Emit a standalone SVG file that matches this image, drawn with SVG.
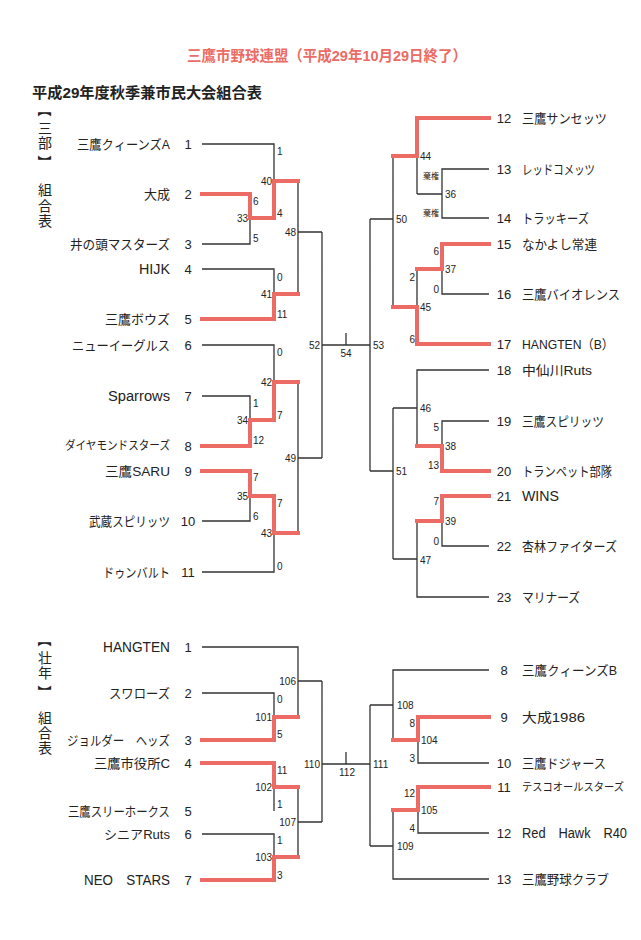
<svg xmlns="http://www.w3.org/2000/svg" width="641" height="940" viewBox="0 0 641 940">
<style>
text{font-family:"Liberation Sans","Noto Sans CJK JP",sans-serif;fill:#222;dominant-baseline:central}
.ttl{font-size:15px;font-weight:bold;fill:#ec6b64}
.sub{font-size:15px;font-weight:bold}
.v{font-size:14px;text-anchor:middle}
.nl{font-size:13px;text-anchor:end}
.nr{font-size:13px;text-anchor:start}
.no{font-size:13px;text-anchor:middle}
.m{font-size:10px}
.e{text-anchor:end}
.c{text-anchor:middle}
.k{font-size:8px;text-anchor:end}
.bk{fill:none;stroke:#333;stroke-width:1.3}
.rd{fill:none;stroke:#ec6b64;stroke-width:4;stroke-linejoin:miter;stroke-linecap:square}
</style>
<rect width="641" height="940" fill="#fff"/>
<text class="ttl" x="187" y="55" textLength="280" lengthAdjust="spacingAndGlyphs">三鷹市野球連盟（平成29年10月29日終了）</text>
<text class="sub" x="32" y="92" textLength="230" lengthAdjust="spacingAndGlyphs">平成29年度秋季兼市民大会組合表</text>
<g id="label-sanbu">
<text class="v" x="45" y="110" transform="rotate(90 45 110)">【</text>
<text class="v" x="45" y="128">三</text>
<text class="v" x="45" y="143">部</text>
<text class="v" x="45" y="162" transform="rotate(90 45 162)">】</text>
<text class="v" x="45" y="190">組</text>
<text class="v" x="45" y="206">合</text>
<text class="v" x="45" y="221">表</text>
</g>
<g id="label-sonen">
<text class="v" x="45" y="640" transform="rotate(90 45 640)">【</text>
<text class="v" x="45" y="658">壮</text>
<text class="v" x="45" y="673">年</text>
<text class="v" x="45" y="692" transform="rotate(90 45 692)">】</text>
<text class="v" x="45" y="718">組</text>
<text class="v" x="45" y="733">合</text>
<text class="v" x="45" y="748">表</text>
</g>

<g id="connectors">
<path class="bk" d="M202,144H274V218M202,244H250V194M298,181V294M298,232H322M202,269H274V319M202,345H274V420M202,396H250V446M298,382V533M298,458H322M202,521H250V471M202,572H274V496M322,232V458M322,345H370M346,333V345M370,219V471M370,219H393M370,471H393"/>
<path class="bk" d="M489,169H442V218H489M417,194H442M417,118V194M393,156V307M489,294H442V244M417,269V344M489,370H417V446M489,421H442V471M393,408H417M393,408V559M489,546H442V496M489,597H417V521M393,559H417"/>
<path class="bk" d="M202,647H298V717M202,693H274V740M298,681H322M298,787V857M298,822H322M202,763H274V811M202,834H274V880M322,681V822M322,764H370M346,752V764M370,705V846M370,705H393M370,846H393"/>
<path class="bk" d="M489,670H393V740M489,763H418V717M489,833H418V787M393,810V879H489"/>
<path class="rd" d="M202,194H250V218H274V181H298M202,319H274V294H298M202,446H250V420H274V382H298M202,471H250V496H274V533H298"/>
<path class="rd" d="M489,118H417V156H393M489,244H442V269H417M489,344H417V307H393M489,471H442V446H417M489,496H442V521H417"/>
<path class="rd" d="M202,740H274V717H298M202,763H274V787H298M202,880H274V857H298"/>
<path class="rd" d="M489,717H418V740H393M489,787H418V810H393"/>
</g>

<g id="sanbu-1"><text class="nl" x="170" y="144" textLength="93" lengthAdjust="spacingAndGlyphs">三鷹クィーンズA</text><text class="no" x="188" y="144">1</text></g>
<g id="sanbu-2"><text class="nl" x="170" y="194" textLength="26" lengthAdjust="spacingAndGlyphs">大成</text><text class="no" x="188" y="194">2</text></g>
<g id="sanbu-3"><text class="nl" x="170" y="244" textLength="100" lengthAdjust="spacingAndGlyphs">井の頭マスターズ</text><text class="no" x="188" y="244">3</text></g>
<g id="sanbu-4"><text class="nl" x="170" y="269" style="font-size:14px" textLength="31" lengthAdjust="spacingAndGlyphs">HIJK</text><text class="no" x="188" y="269">4</text></g>
<g id="sanbu-5"><text class="nl" x="170" y="319" textLength="65" lengthAdjust="spacingAndGlyphs">三鷹ボウズ</text><text class="no" x="188" y="319">5</text></g>
<g id="sanbu-6"><text class="nl" x="170" y="345" textLength="98" lengthAdjust="spacingAndGlyphs">ニューイーグルス</text><text class="no" x="188" y="345">6</text></g>
<g id="sanbu-7"><text class="nl" x="170" y="396" style="font-size:14px" textLength="62" lengthAdjust="spacingAndGlyphs">Sparrows</text><text class="no" x="188" y="396">7</text></g>
<g id="sanbu-8"><text class="nl" x="170" y="446" style="font-size:12px" textLength="105" lengthAdjust="spacingAndGlyphs">ダイヤモンドスターズ</text><text class="no" x="188" y="446">8</text></g>
<g id="sanbu-9"><text class="nl" x="170" y="471" textLength="65" lengthAdjust="spacingAndGlyphs">三鷹SARU</text><text class="no" x="188" y="471">9</text></g>
<g id="sanbu-10"><text class="nl" x="170" y="521" textLength="81" lengthAdjust="spacingAndGlyphs">武蔵スピリッツ</text><text class="no" x="188" y="521">10</text></g>
<g id="sanbu-11"><text class="nl" x="170" y="572" textLength="67" lengthAdjust="spacingAndGlyphs">ドゥンバルト</text><text class="no" x="188" y="572">11</text></g>

<g id="sanbu-12"><text class="no" x="504" y="118">12</text><text class="nr" x="522" y="118" textLength="85" lengthAdjust="spacingAndGlyphs">三鷹サンセッツ</text></g>
<g id="sanbu-13"><text class="no" x="504" y="169">13</text><text class="nr" x="522" y="169" textLength="73" lengthAdjust="spacingAndGlyphs">レッドコメッツ</text></g>
<g id="sanbu-14"><text class="no" x="504" y="218">14</text><text class="nr" x="522" y="218" textLength="67" lengthAdjust="spacingAndGlyphs">トラッキーズ</text></g>
<g id="sanbu-15"><text class="no" x="504" y="244">15</text><text class="nr" x="522" y="244" textLength="75" lengthAdjust="spacingAndGlyphs">なかよし常連</text></g>
<g id="sanbu-16"><text class="no" x="504" y="294">16</text><text class="nr" x="522" y="294" textLength="98" lengthAdjust="spacingAndGlyphs">三鷹バイオレンス</text></g>
<g id="sanbu-17"><text class="no" x="504" y="344">17</text><text class="nr" x="522" y="344" textLength="92" lengthAdjust="spacingAndGlyphs">HANGTEN（B）</text></g>
<g id="sanbu-18"><text class="no" x="504" y="370">18</text><text class="nr" x="522" y="370" textLength="70" lengthAdjust="spacingAndGlyphs">中仙川Ruts</text></g>
<g id="sanbu-19"><text class="no" x="504" y="421">19</text><text class="nr" x="522" y="421" textLength="82" lengthAdjust="spacingAndGlyphs">三鷹スピリッツ</text></g>
<g id="sanbu-20"><text class="no" x="504" y="471">20</text><text class="nr" x="522" y="471" textLength="90" lengthAdjust="spacingAndGlyphs">トランペット部隊</text></g>
<g id="sanbu-21"><text class="no" x="504" y="496">21</text><text class="nr" x="522" y="496" style="font-size:14px" textLength="37" lengthAdjust="spacingAndGlyphs">WINS</text></g>
<g id="sanbu-22"><text class="no" x="504" y="546">22</text><text class="nr" x="522" y="546" textLength="95" lengthAdjust="spacingAndGlyphs">杏林ファイターズ</text></g>
<g id="sanbu-23"><text class="no" x="504" y="597">23</text><text class="nr" x="522" y="597" textLength="58" lengthAdjust="spacingAndGlyphs">マリナーズ</text></g>

<g id="sonen-1"><text class="nl" x="170" y="647" style="font-size:14px" textLength="67" lengthAdjust="spacingAndGlyphs">HANGTEN</text><text class="no" x="188" y="647">1</text></g>
<g id="sonen-2"><text class="nl" x="170" y="693" textLength="61" lengthAdjust="spacingAndGlyphs">スワローズ</text><text class="no" x="188" y="693">2</text></g>
<g id="sonen-3"><text class="nl" x="170" y="740" textLength="103" lengthAdjust="spacingAndGlyphs">ジョルダー　ヘッズ</text><text class="no" x="188" y="740">3</text></g>
<g id="sonen-4"><text class="nl" x="170" y="763" textLength="76" lengthAdjust="spacingAndGlyphs">三鷹市役所C</text><text class="no" x="188" y="763">4</text></g>
<g id="sonen-5"><text class="nl" x="170" y="811" textLength="102" lengthAdjust="spacingAndGlyphs">三鷹スリーホークス</text><text class="no" x="188" y="811">5</text></g>
<g id="sonen-6"><text class="nl" x="170" y="834" textLength="66" lengthAdjust="spacingAndGlyphs">シニアRuts</text><text class="no" x="188" y="834">6</text></g>
<g id="sonen-7"><text class="nl" x="170" y="880" style="font-size:14px" textLength="86" lengthAdjust="spacingAndGlyphs">NEO　STARS</text><text class="no" x="188" y="880">7</text></g>

<g id="sonen-8"><text class="no" x="504" y="670">8</text><text class="nr" x="522" y="670" textLength="95" lengthAdjust="spacingAndGlyphs">三鷹クィーンズB</text></g>
<g id="sonen-9"><text class="no" x="504" y="717">9</text><text class="nr" x="522" y="717" textLength="63" lengthAdjust="spacingAndGlyphs">大成1986</text></g>
<g id="sonen-10"><text class="no" x="504" y="763">10</text><text class="nr" x="522" y="763" textLength="84" lengthAdjust="spacingAndGlyphs">三鷹ドジャース</text></g>
<g id="sonen-11"><text class="no" x="504" y="787">11</text><text class="nr" x="522" y="787" style="font-size:11px" textLength="102" lengthAdjust="spacingAndGlyphs">テスコオールスターズ</text></g>
<g id="sonen-12"><text class="no" x="504" y="833">12</text><text class="nr" x="522" y="833" style="font-size:14px" textLength="105" lengthAdjust="spacingAndGlyphs">Red　Hawk　R40</text></g>
<g id="sonen-13"><text class="no" x="504" y="879">13</text><text class="nr" x="522" y="879" textLength="87" lengthAdjust="spacingAndGlyphs">三鷹野球クラブ</text></g>

<g id="matches-sanbu">
<g id="m33"><text class="m e" x="248" y="218">33</text><text class="m" x="253" y="201">6</text><text class="m" x="253" y="238">5</text></g>
<g id="m40"><text class="m e" x="272" y="181">40</text><text class="m" x="277" y="151">1</text><text class="m" x="277" y="213">4</text></g>
<g id="m48"><text class="m e" x="296" y="232">48</text></g>
<g id="m41"><text class="m e" x="272" y="294">41</text><text class="m" x="277" y="277">0</text><text class="m" x="277" y="314">11</text></g>
<g id="m42"><text class="m e" x="272" y="382">42</text><text class="m" x="277" y="352">0</text><text class="m" x="277" y="415">7</text></g>
<g id="m34"><text class="m e" x="248" y="420">34</text><text class="m" x="253" y="403">1</text><text class="m" x="253" y="440">12</text></g>
<g id="m49"><text class="m e" x="296" y="458">49</text></g>
<g id="m35"><text class="m e" x="248" y="496">35</text><text class="m" x="253" y="477">7</text><text class="m" x="253" y="516">6</text></g>
<g id="m43"><text class="m e" x="272" y="533">43</text><text class="m" x="277" y="503">7</text><text class="m" x="277" y="566">0</text></g>
<g id="m52"><text class="m e" x="320" y="345">52</text></g>
<g id="m54"><text class="m c" x="346" y="353">54</text></g>
<g id="m53"><text class="m" x="373" y="345">53</text></g>
<g id="m50"><text class="m" x="396" y="219">50</text></g>
<g id="m44"><text class="m" x="420" y="156">44</text></g>
<g id="m36"><text class="m" x="445" y="194">36</text><text class="k" x="439" y="176">棄権</text><text class="k" x="439" y="213">棄権</text></g>
<g id="m37"><text class="m" x="445" y="269">37</text><text class="m e" x="439" y="251">6</text><text class="m e" x="439" y="289">0</text></g>
<g id="m45"><text class="m" x="420" y="307">45</text><text class="m e" x="415" y="277">2</text><text class="m e" x="415" y="339">6</text></g>
<g id="m46"><text class="m" x="420" y="408">46</text></g>
<g id="m38"><text class="m" x="445" y="446">38</text><text class="m e" x="439" y="427">5</text><text class="m e" x="439" y="465">13</text></g>
<g id="m51"><text class="m" x="396" y="471">51</text></g>
<g id="m39"><text class="m" x="445" y="521">39</text><text class="m e" x="439" y="501">7</text><text class="m e" x="439" y="541">0</text></g>
<g id="m47"><text class="m" x="420" y="560">47</text></g>
</g>

<g id="matches-sonen">
<g id="m106"><text class="m e" x="296" y="681">106</text></g>
<g id="m101"><text class="m e" x="272" y="717">101</text><text class="m" x="277" y="699">0</text><text class="m" x="277" y="734">5</text></g>
<g id="m102"><text class="m e" x="272" y="787">102</text><text class="m" x="277" y="770">11</text><text class="m" x="277" y="804">1</text></g>
<g id="m107"><text class="m e" x="296" y="822">107</text></g>
<g id="m103"><text class="m e" x="272" y="857">103</text><text class="m" x="277" y="840">1</text><text class="m" x="277" y="875">3</text></g>
<g id="m110"><text class="m e" x="320" y="764">110</text></g>
<g id="m112"><text class="m c" x="347" y="772">112</text></g>
<g id="m111"><text class="m" x="373" y="764">111</text></g>
<g id="m108"><text class="m" x="397" y="705">108</text></g>
<g id="m104"><text class="m" x="421" y="740">104</text><text class="m e" x="415" y="723">8</text><text class="m e" x="415" y="758">3</text></g>
<g id="m105"><text class="m" x="421" y="810">105</text><text class="m e" x="415" y="793">12</text><text class="m e" x="415" y="828">4</text></g>
<g id="m109"><text class="m" x="397" y="846">109</text></g>
</g>
</svg>
